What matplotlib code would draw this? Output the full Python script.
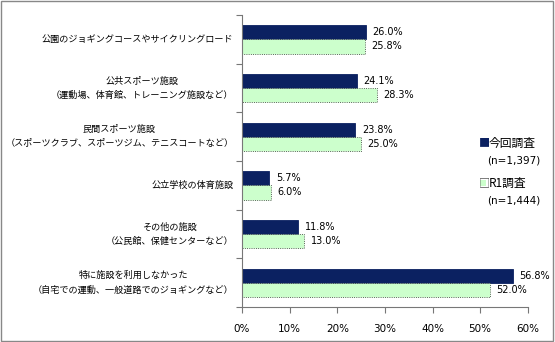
import matplotlib
matplotlib.use('Agg')
import matplotlib.pyplot as plt
import numpy as np
from matplotlib.patches import Rectangle

plt.rcParams['font.family'] = ['Noto Sans CJK JP', 'DejaVu Sans']

categories = [
    '公園のジョギングコースやサイクリングロード',
    '公共スポーツ施設\n（運動場、体育館、トレーニング施設など）',
    '民間スポーツ施設\n（スポーツクラブ、スポーツジム、テニスコートなど）',
    '公立学校の体育施設',
    'その他の施設\n（公民館、保健センターなど）',
    '特に施設を利用しなかった\n（自宅での運動、一般道路でのジョギングなど）',
]
current = [26.0, 24.1, 23.8, 5.7, 11.8, 56.8]
r1 = [25.8, 28.3, 25.0, 6.0, 13.0, 52.0]
xticks = [0, 10, 20, 30, 40, 50, 60]

navy = '#0b2161'
green = '#ccffcc'

fig = plt.figure(figsize=(5.55, 3.42), dpi=100)
ax = fig.add_axes([0.436, 0.102, 0.515, 0.854])

n = len(categories)
y = np.arange(n)
h = 0.29
ax.barh(y - h / 2, current, height=h, color=navy, edgecolor=navy, lw=0.6)
ax.barh(y + h / 2, r1, height=h, color=green, edgecolor='#333333', lw=0.6, ls=':')

for i in range(n):
    ax.text(current[i] + 1.4, y[i] - h / 2, f'{current[i]:.1f}%', va='center',
            ha='left', fontsize=7, family='DejaVu Sans')
    ax.text(r1[i] + 1.4, y[i] + h / 2, f'{r1[i]:.1f}%', va='center',
            ha='left', fontsize=7, family='DejaVu Sans')

ax.set_xlim(0, 60)
ax.set_ylim(n - 0.5, -0.5)
ax.set_xticks(xticks)
ax.set_xticklabels([f'{t}%' for t in xticks], fontsize=7.5, family='DejaVu Sans')
ax.set_yticks(np.arange(n + 1) - 0.5)
ax.set_yticklabels([])
ax.tick_params(axis='y', length=4, direction='out', color='#777777')
ax.tick_params(axis='x', length=4, direction='out', color='#777777', pad=8)
for i, c in enumerate(categories):
    ax.text(-0.03, y[i], c, transform=ax.get_yaxis_transform(), ha='right',
            va='center', fontsize=6.55, multialignment='center', linespacing=1.7)

for s in ['top', 'right']:
    ax.spines[s].set_visible(False)
for s in ['left', 'bottom']:
    ax.spines[s].set_color('#777777')
    ax.spines[s].set_linewidth(0.8)

# legend
fig.text(0.862, 0.582, '■', color=navy, fontsize=8, va='center')
fig.text(0.880, 0.582, '今回調査', fontsize=8.5, va='center')
fig.text(0.878, 0.532, '(n=1,397)', fontsize=7.5, va='center', family='DejaVu Sans')
fig.text(0.862, 0.465, '□', color='#555555', fontsize=8, va='center')
fig.add_artist(Rectangle((0.864, 0.455), 0.012, 0.02, transform=fig.transFigure,
                         facecolor=green, edgecolor='none'))
fig.text(0.880, 0.465, 'R1調査', fontsize=8.5, va='center')
fig.text(0.878, 0.415, '(n=1,444)', fontsize=7.5, va='center', family='DejaVu Sans')

fig.add_artist(Rectangle((0.002, 0.003), 0.995, 0.993, transform=fig.transFigure,
                         fill=False, edgecolor='#888888', lw=1))

fig.savefig('out.png', dpi=100, facecolor='white')
